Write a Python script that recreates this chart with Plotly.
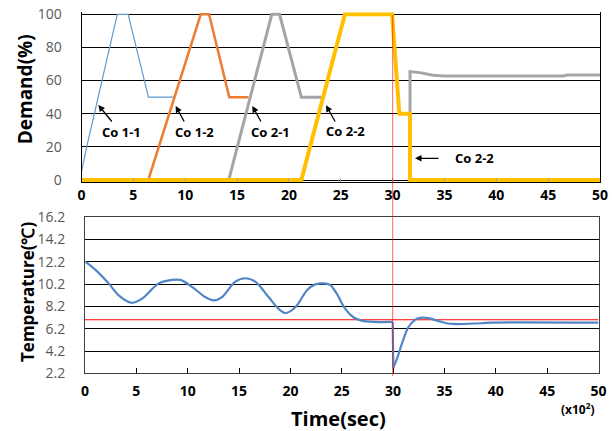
import plotly.graph_objects as go

# ---------------- data ----------------
# Demand (%) per controller, time in x100 s
co11_t = [0, 0.5, 3.45, 4.5, 6.45, 8.9]
co11_v = [5, 20, 100, 100, 50, 50]

co12_t = [6.44, 11.5, 12.3, 14.25, 16.1]
co12_v = [0, 100, 100, 50, 50]

co21_t = [14.2, 18.35, 19.1, 21.2, 23.1, None, 31.68, 31.68, 32.64, 33.9, 34.9, 46.5, 46.8, 50]
co21_v = [0, 100, 100, 50, 50, None, 0, 65.4, 64.8, 63.2, 62.8, 62.8, 63.4, 63.4]

co22_t = [0, 21.2, 25.4, 29.95, 30.65, 31.68, 31.68, 50]
co22_v = [0, 0, 100, 100, 40, 40, 0, 0]

# Temperature (deg C)
temp_t = [0, 1.0, 2.3, 3.28, 4.58, 5.55, 7.18, 8.47, 9.28, 10.42, 11.71, 12.53, 13.34,
          14.64, 15.61, 16.58, 17.88, 18.86, 19.5, 20.48, 21.62, 22.42, 23.24, 23.86,
          24.5, 25.32, 26.13, 26.94, 28.07, 29.96, 30.02, 30.35, 30.84, 31.48, 32.13,
          32.62, 33.43, 34.25, 35.22, 35.86, 38.63, 39.44, 50]
temp_v = [12.25, 11.5, 10.27, 9.2, 8.53, 8.9, 10.27, 10.58, 10.58, 9.96, 9.04, 8.74, 9.04,
          10.42, 10.73, 10.42, 9.04, 7.98, 7.61, 8.13, 9.66, 10.18, 10.27, 10.13,
          9.37, 8.0, 7.23, 6.93, 6.81, 6.81, 2.7, 3.44, 4.81, 6.33, 7.0,
          7.18, 7.15, 6.93, 6.69, 6.63, 6.69, 6.75, 6.75]

setpoint = 7.0
event_time = 30
t_range = [0, 50]

x_ticks = list(range(0, 51, 5))
demand_ticks = [0, 20, 40, 60, 80, 100]
temp_ticks = [2.2, 4.2, 6.2, 8.2, 10.2, 12.2, 14.2, 16.2]

# annotation labels: (text, tip_x, tip_y, tail_x, tail_y, label_x, label_y)
labels = [
    ("Co 1-1", 1.62, 45.3, 3.04, 34.4, 3.88, 29.1),
    ("Co 1-2", 9.08, 44.7, 9.98, 34.4, 10.88, 29.1),
    ("Co 2-1", 16.47, 44.7, 17.38, 34.4, 18.24, 29.1),
    ("Co 2-2", 23.58, 45.1, 24.54, 34.4, 25.48, 29.4),
    ("Co 2-2", 32.16, 13.1, 34.57, 13.1, 37.88, 13.1),
]

W, H = 612, 431
FONT = "Open Sans"

fig = go.Figure()

fig.add_trace(go.Scatter(x=co11_t, y=co11_v, mode="lines", line=dict(color="#5B9BD5", width=1.2),
                         xaxis="x", yaxis="y", showlegend=False))
fig.add_trace(go.Scatter(x=co12_t, y=co12_v, mode="lines", line=dict(color="#ED7D31", width=2.5),
                         xaxis="x", yaxis="y", showlegend=False))
fig.add_trace(go.Scatter(x=co21_t, y=co21_v, mode="lines", line=dict(color="#A5A5A5", width=3),
                         xaxis="x", yaxis="y", showlegend=False, connectgaps=False))
fig.add_trace(go.Scatter(x=co22_t, y=co22_v, mode="lines", line=dict(color="#FFC000", width=4),
                         xaxis="x", yaxis="y", showlegend=False))

fig.add_trace(go.Scatter(x=t_range, y=[setpoint, setpoint], mode="lines",
                         line=dict(color="#FF0000", width=1.1),
                         xaxis="x2", yaxis="y2", showlegend=False))

# temperature: smooth before and after the sudden drop, straight drop in between
drop = temp_v.index(min(temp_v))
TEMP_LINE = dict(color="#4F86C6", width=2.2)
fig.add_trace(go.Scatter(x=temp_t[:drop], y=temp_v[:drop], mode="lines",
                         line=dict(**TEMP_LINE, shape="spline", smoothing=0.9),
                         xaxis="x2", yaxis="y2", showlegend=False))
fig.add_trace(go.Scatter(x=temp_t[drop - 1:drop + 1], y=temp_v[drop - 1:drop + 1], mode="lines",
                         line=dict(**TEMP_LINE),
                         xaxis="x2", yaxis="y2", showlegend=False))
fig.add_trace(go.Scatter(x=temp_t[drop:], y=temp_v[drop:], mode="lines",
                         line=dict(**TEMP_LINE, shape="spline", smoothing=0.9),
                         xaxis="x2", yaxis="y2", showlegend=False))

# domains (paper fractions)
top_x = [81.5 / W, 600 / W]
bot_x = [85 / W, 598.5 / W]
top_y = [(H - 182.15) / H, (H - 12.15) / H]
bot_y = [(H - 373.3) / H, (H - 217.3) / H]

fig.update_layout(
    template="none",
    width=W, height=H, autosize=False,
    margin=dict(l=0, r=0, t=0, b=0, pad=0),
    paper_bgcolor="white", plot_bgcolor="white",
    font=dict(family=FONT, color="#000000"),
    xaxis=dict(domain=top_x, anchor="y", range=t_range, tickvals=x_ticks, automargin=False,
               ticks="inside", ticklen=4, tickcolor="#A6A6A6",
               showgrid=False, zeroline=False, showline=True, linecolor="#000000",
               tickfont=dict(size=14, color="#000000", weight="bold", family=FONT)),
    yaxis=dict(domain=top_y, anchor="x", range=[-1.3, 101.3], tickvals=demand_ticks, automargin=False,
               showgrid=True, gridcolor="#000000", gridwidth=1, zeroline=False,
               showline=True, mirror=True, linecolor="#000000", ticks="",
               ticklabelstandoff=16,
               tickfont=dict(size=14, color="#595959", family=FONT)),
    xaxis2=dict(domain=bot_x, anchor="y2", range=t_range, tickvals=x_ticks, automargin=False,
                ticks="inside", ticklen=5, tickcolor="#000000",
                showgrid=False, zeroline=False, showline=True, mirror=True, linecolor="#404040",
                ticklabelstandoff=5,
                tickfont=dict(size=14, color="#000000", weight="bold", family=FONT)),
    yaxis2=dict(domain=bot_y, anchor="x2", range=[2.2, 16.2], tickvals=temp_ticks, automargin=False,
                tickformat=".1f",
                showgrid=True, gridcolor="#000000", gridwidth=1, zeroline=False,
                showline=True, mirror=True, linecolor="#404040", ticks="",
                ticklabelstandoff=16,
                tickfont=dict(size=14, color="#595959", family=FONT)),
)

# red event line across both panels
fig.add_shape(type="line", xref="x", yref="paper", x0=event_time, x1=event_time,
              y0=(H - 376) / H, y1=(H - 15) / H,
              line=dict(color="rgba(255,0,0,0.5)", width=1.2), layer="above")

annos = []
for text, tx, ty, ax, ay, lx, ly in labels:
    annos.append(dict(x=tx, y=ty, ax=ax, ay=ay, xref="x", yref="y", axref="x", ayref="y",
                      text="", showarrow=True, arrowhead=2, arrowsize=1, arrowwidth=1.3,
                      arrowcolor="#000000", standoff=0, startstandoff=0))
    annos.append(dict(x=lx, y=ly, xref="x", yref="y", text=f"<b>{text}</b>", showarrow=False,
                      font=dict(size=13, color="#000000", family=FONT),
                      xanchor="center", yanchor="middle"))

annos += [
    dict(x=25 / W, y=(H - 89.3) / H, xref="paper", yref="paper", text="<b>Demand(%)</b>",
         textangle=-90, showarrow=False, font=dict(size=19, color="#000000", family=FONT),
         xanchor="center", yanchor="middle"),
    dict(x=27.5 / W, y=(H - 292.5) / H, xref="paper", yref="paper", text="<b>Temperature(℃)</b>",
         textangle=-90, showarrow=False, font=dict(size=17, color="#000000", family=FONT),
         xanchor="center", yanchor="middle"),
    dict(x=338 / W, y=(H - 418.5) / H, xref="paper", yref="paper", text="<b>Time(sec)</b>",
         showarrow=False, font=dict(size=20, color="#000000", family=FONT),
         xanchor="center", yanchor="middle"),
    dict(x=578 / W, y=(H - 409) / H, xref="paper", yref="paper",
         text="<b>(x10<sup>2</sup>)</b>",
         showarrow=False, font=dict(size=12, color="#000000", family=FONT),
         xanchor="center", yanchor="middle"),
]
fig.update_layout(annotations=annos)

fig.write_html("out.html", config={"displayModeBar": False},
               post_script="document.body.style.margin='0px';document.body.style.overflow='hidden';")
